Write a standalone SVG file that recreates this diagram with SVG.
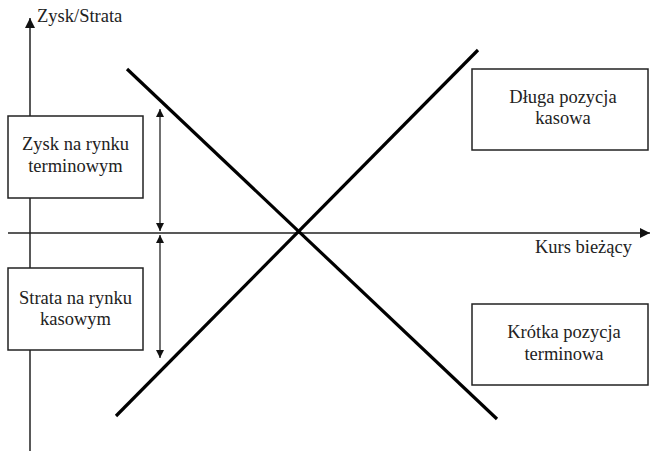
<svg xmlns="http://www.w3.org/2000/svg" width="650" height="451" viewBox="0 0 650 451">
  <defs>
    <marker id="arr" viewBox="0 0 10 10" refX="10" refY="5" markerWidth="8" markerHeight="8" markerUnits="userSpaceOnUse" orient="auto-start-reverse">
      <path d="M0,0 L10,5 L0,10 Z" fill="#111"/>
    </marker>
    <marker id="arrAxis" viewBox="0 0 10 10" refX="10" refY="5" markerWidth="10" markerHeight="10" markerUnits="userSpaceOnUse" orient="auto">
      <path d="M0,0 L10,5 L0,10 Z" fill="#111"/>
    </marker>
  </defs>
  <style>
    text { font-family: "Liberation Serif", "Times New Roman", serif; font-size: 18.5px; fill: #222; }
    .c { text-anchor: middle; }
    .box { fill: #fff; stroke: #222; stroke-width: 1.5; }
    .axis { stroke: #222; stroke-width: 1.5; fill: none; }
    .thick { stroke: #000; stroke-width: 3.2; fill: none; }
    .dim { stroke: #111; stroke-width: 1.2; fill: none; }
  </style>
  <rect width="650" height="451" fill="#fff"/>

  <g id="connectors">
    <!-- axes -->
    <line class="axis" x1="30" y1="451" x2="30" y2="18" marker-end="url(#arrAxis)"/>
    <line class="axis" x1="8" y1="233" x2="650" y2="233" marker-end="url(#arrAxis)"/>
    <!-- payoff lines -->
    <line class="thick" x1="127" y1="69" x2="497" y2="419"/>
    <line class="thick" x1="116" y1="416" x2="478" y2="50"/>
    <!-- magnitude arrows -->
    <line class="dim" x1="160" y1="109" x2="160" y2="231" marker-start="url(#arr)" marker-end="url(#arr)"/>
    <line class="dim" x1="160" y1="235" x2="160" y2="358" marker-start="url(#arr)" marker-end="url(#arr)"/>
  </g>

  <g id="axis-y-label"><text x="37" y="22">Zysk/Strata</text></g>
  <g id="axis-x-label"><text x="632" y="253" text-anchor="end">Kurs bieżący</text></g>

  <g id="zysk-terminowy">
    <rect class="box" x="8" y="116" width="135" height="82"/>
    <text class="c" x="75.5" y="150">Zysk na rynku</text>
    <text class="c" x="75.5" y="172">terminowym</text>
  </g>

  <g id="strata-kasowy">
    <rect class="box" x="8" y="268" width="135" height="82"/>
    <text class="c" x="75.5" y="304">Strata na rynku</text>
    <text class="c" x="75.5" y="325">kasowym</text>
  </g>

  <g id="dluga-kasowa">
    <rect class="box" x="472" y="69" width="176" height="81"/>
    <text class="c" x="563" y="103">Długa pozycja</text>
    <text class="c" x="563" y="124">kasowa</text>
  </g>

  <g id="krotka-terminowa">
    <rect class="box" x="472" y="304" width="176" height="81"/>
    <text class="c" x="564" y="338">Krótka pozycja</text>
    <text class="c" x="564" y="360">terminowa</text>
  </g>
</svg>
